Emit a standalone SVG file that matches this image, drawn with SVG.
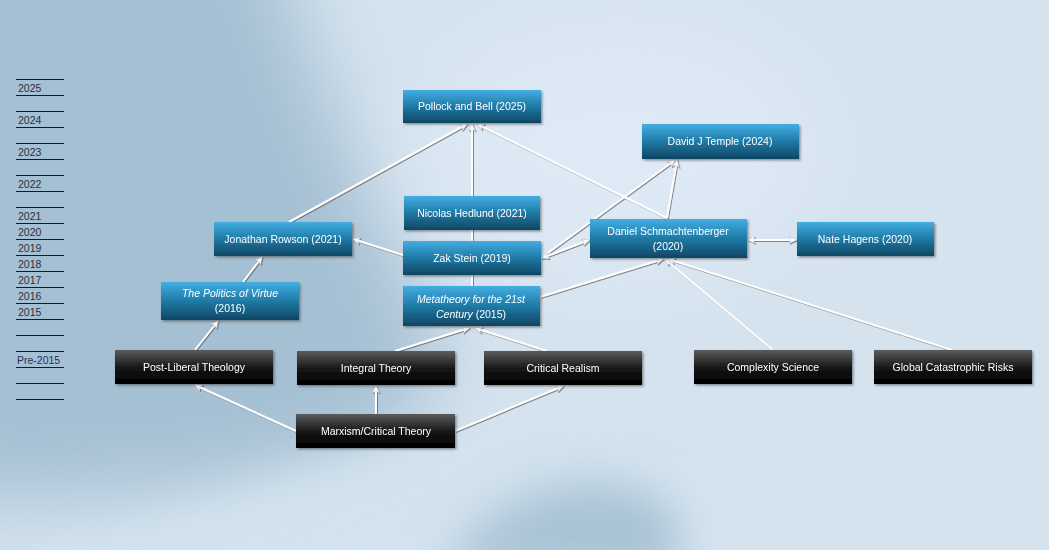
<svg xmlns="http://www.w3.org/2000/svg" width="1049" height="550" viewBox="0 0 1049 550">
<defs>
<linearGradient id="blue" x1="0" y1="0" x2="0" y2="1">
<stop offset="0" stop-color="#43aee2"/>
<stop offset="0.5" stop-color="#1f7aa6"/>
<stop offset="1" stop-color="#0f4662"/>
</linearGradient>
<linearGradient id="black" x1="0" y1="0" x2="0" y2="1">
<stop offset="0" stop-color="#5c5c5c"/>
<stop offset="0.55" stop-color="#141414"/>
<stop offset="1" stop-color="#000000"/>
</linearGradient>
<filter id="blur" x="-50%" y="-50%" width="200%" height="200%"><feGaussianBlur stdDeviation="40"/></filter>
<filter id="blur2" x="-50%" y="-50%" width="200%" height="200%"><feGaussianBlur stdDeviation="22"/></filter>
<filter id="sh" x="-20%" y="-20%" width="140%" height="160%"><feDropShadow dx="1.5" dy="1.5" stdDeviation="1" flood-color="#333" flood-opacity="0.5"/></filter>
<filter id="lsh" x="-20%" y="-20%" width="140%" height="140%"><feDropShadow dx="1" dy="1" stdDeviation="0.7" flood-color="#444" flood-opacity="0.6"/></filter>
<marker id="arr" viewBox="0 0 10 10" refX="9" refY="5" markerWidth="8" markerHeight="8" markerUnits="userSpaceOnUse" orient="auto-start-reverse">
<path d="M0,0.5 L10,5 L0,9.5 L2.5,5 z" fill="#ffffff" stroke="#aaaaaa" stroke-width="0.5"/>
</marker>
<style>
.ln{stroke:#ffffff;stroke-width:2;fill:none}
.bn{fill:url(#blue)}
.kn{fill:url(#black)}
.t{font-family:"Liberation Sans","DejaVu Sans",sans-serif;font-size:10.5px;fill:#ffffff;text-anchor:middle}
.i{font-style:italic}
.yr{font-family:"Liberation Sans","DejaVu Sans",sans-serif;font-size:10.5px;fill:#2a2f3d}
.tl{stroke:#111a2a;stroke-width:1}
</style>
</defs>

<g id="background">
<rect width="1049" height="550" fill="#d5e3ef"/>
<path d="M-80,-80 L270,-80 C310,80 380,220 430,320 C460,400 400,440 300,470 C180,500 60,500 -80,500 Z" fill="#a5c0d3" filter="url(#blur)"/>
<path d="M-40,610 C100,540 280,480 450,440 C560,415 640,400 720,390 L760,440 C620,460 480,500 300,580 Z" fill="#d2e2ee" filter="url(#blur2)"/>
<path d="M440,570 C480,510 545,475 620,485 C675,495 690,530 675,575 Z" fill="#a8c2d5" filter="url(#blur2)"/>
<ellipse cx="620" cy="150" rx="200" ry="130" fill="#dde9f5" filter="url(#blur)"/>
</g>

<g id="timeline">
<g class="tl">
<line x1="16" y1="79.5" x2="64" y2="79.5"/><line x1="16" y1="95.5" x2="64" y2="95.5"/>
<line x1="16" y1="111.5" x2="64" y2="111.5"/><line x1="16" y1="127.5" x2="64" y2="127.5"/>
<line x1="16" y1="143.5" x2="64" y2="143.5"/><line x1="16" y1="159.5" x2="64" y2="159.5"/>
<line x1="16" y1="175.5" x2="64" y2="175.5"/><line x1="16" y1="191.5" x2="64" y2="191.5"/>
<line x1="16" y1="207.5" x2="64" y2="207.5"/><line x1="16" y1="223.5" x2="64" y2="223.5"/>
<line x1="16" y1="239.5" x2="64" y2="239.5"/><line x1="16" y1="255.5" x2="64" y2="255.5"/>
<line x1="16" y1="271.5" x2="64" y2="271.5"/><line x1="16" y1="287.5" x2="64" y2="287.5"/>
<line x1="16" y1="303.5" x2="64" y2="303.5"/><line x1="16" y1="319.5" x2="64" y2="319.5"/>
<line x1="16" y1="335.5" x2="64" y2="335.5"/><line x1="16" y1="351.5" x2="64" y2="351.5"/>
<line x1="16" y1="367.5" x2="64" y2="367.5"/><line x1="16" y1="383.5" x2="64" y2="383.5"/>
<line x1="16" y1="399.5" x2="64" y2="399.5"/>
</g>
<text class="yr" x="18" y="92">2025</text>
<text class="yr" x="18" y="124">2024</text>
<text class="yr" x="18" y="156">2023</text>
<text class="yr" x="18" y="188">2022</text>
<text class="yr" x="18" y="220">2021</text>
<text class="yr" x="18" y="236">2020</text>
<text class="yr" x="18" y="252">2019</text>
<text class="yr" x="18" y="268">2018</text>
<text class="yr" x="18" y="284">2017</text>
<text class="yr" x="18" y="300">2016</text>
<text class="yr" x="18" y="316">2015</text>
<text class="yr" x="17" y="364" style="fill:#1f3060">Pre-2015</text>
</g>

<g id="connectors" filter="url(#lsh)">
<line class="ln" x1="289" y1="222" x2="467" y2="124" marker-end="url(#arr)"/>
<line class="ln" x1="472" y1="286" x2="472" y2="124" marker-end="url(#arr)"/>
<line class="ln" x1="667" y1="218" x2="477" y2="124" marker-end="url(#arr)"/>
<line class="ln" x1="667" y1="218" x2="677" y2="160" marker-end="url(#arr)"/>
<line class="ln" x1="541" y1="258" x2="675" y2="160" marker-end="url(#arr)"/>
<line class="ln" x1="542" y1="258" x2="589" y2="240" marker-start="url(#arr)" marker-end="url(#arr)"/>
<line class="ln" x1="403" y1="255" x2="353" y2="239" marker-end="url(#arr)"/>
<line class="ln" x1="540" y1="297" x2="663" y2="259" marker-end="url(#arr)"/>
<line class="ln" x1="773" y1="350" x2="665" y2="259" marker-end="url(#arr)"/>
<line class="ln" x1="952" y1="350" x2="668" y2="259" marker-end="url(#arr)"/>
<line class="ln" x1="748" y1="240" x2="796" y2="240" marker-start="url(#arr)" marker-end="url(#arr)"/>
<line class="ln" x1="243" y1="282" x2="262" y2="257" marker-end="url(#arr)"/>
<line class="ln" x1="195" y1="350" x2="218" y2="321" marker-end="url(#arr)"/>
<line class="ln" x1="296" y1="431" x2="195" y2="385" marker-end="url(#arr)"/>
<line class="ln" x1="376" y1="414" x2="376" y2="386" marker-end="url(#arr)"/>
<line class="ln" x1="455" y1="431" x2="563" y2="386" marker-end="url(#arr)"/>
<line class="ln" x1="395" y1="351" x2="469" y2="328" marker-end="url(#arr)"/>
<line class="ln" x1="547" y1="351" x2="475" y2="328" marker-end="url(#arr)"/>
</g>

<g id="n-pollock" filter="url(#sh)"><rect class="bn" x="403" y="90" width="138" height="33"/><text class="t" x="472" y="110">Pollock and Bell (2025)</text></g>
<g id="n-temple" filter="url(#sh)"><rect class="bn" x="642" y="124" width="157" height="35"/><text class="t" x="720" y="145">David J Temple (2024)</text></g>
<g id="n-hedlund" filter="url(#sh)"><rect class="bn" x="404" y="196" width="136" height="34"/><text class="t" x="472" y="217">Nicolas Hedlund (2021)</text></g>
<g id="n-rowson" filter="url(#sh)"><rect class="bn" x="214" y="222" width="138" height="34"/><text class="t" x="283" y="243">Jonathan Rowson (2021)</text></g>
<g id="n-stein" filter="url(#sh)"><rect class="bn" x="403" y="241" width="138" height="34"/><text class="t" x="472" y="262">Zak Stein (2019)</text></g>
<g id="n-schmachtenberger" filter="url(#sh)"><rect class="bn" x="590" y="219" width="157" height="39"/><text class="t" x="668" y="235">Daniel Schmachtenberger</text><text class="t" x="668" y="250">(2020)</text></g>
<g id="n-hagens" filter="url(#sh)"><rect class="bn" x="797" y="222" width="137" height="34"/><text class="t" x="865" y="243">Nate Hagens (2020)</text></g>
<g id="n-politics" filter="url(#sh)"><rect class="bn" x="161" y="282" width="138" height="38"/><text class="t i" x="230" y="297">The Politics of Virtue</text><text class="t" x="230" y="312">(2016)</text></g>
<g id="n-metatheory" filter="url(#sh)"><rect class="bn" x="403" y="286" width="137" height="40"/><text class="t i" x="471" y="303">Metatheory for the 21st</text><text class="t" x="471" y="318"><tspan font-style="italic">Century</tspan> (2015)</text></g>
<g id="n-postliberal" filter="url(#sh)"><rect class="kn" x="115" y="350" width="158" height="34"/><text class="t" x="194" y="371">Post-Liberal Theology</text></g>
<g id="n-integral" filter="url(#sh)"><rect class="kn" x="297" y="351" width="158" height="34"/><text class="t" x="376" y="372">Integral Theory</text></g>
<g id="n-realism" filter="url(#sh)"><rect class="kn" x="484" y="351" width="158" height="34"/><text class="t" x="563" y="372">Critical Realism</text></g>
<g id="n-complexity" filter="url(#sh)"><rect class="kn" x="694" y="350" width="158" height="34"/><text class="t" x="773" y="371">Complexity Science</text></g>
<g id="n-gcr" filter="url(#sh)"><rect class="kn" x="874" y="350" width="158" height="34"/><text class="t" x="953" y="371">Global Catastrophic Risks</text></g>
<g id="n-marxism" filter="url(#sh)"><rect class="kn" x="296" y="414" width="159" height="34"/><text class="t" x="376" y="435">Marxism/Critical Theory</text></g>
</svg>
